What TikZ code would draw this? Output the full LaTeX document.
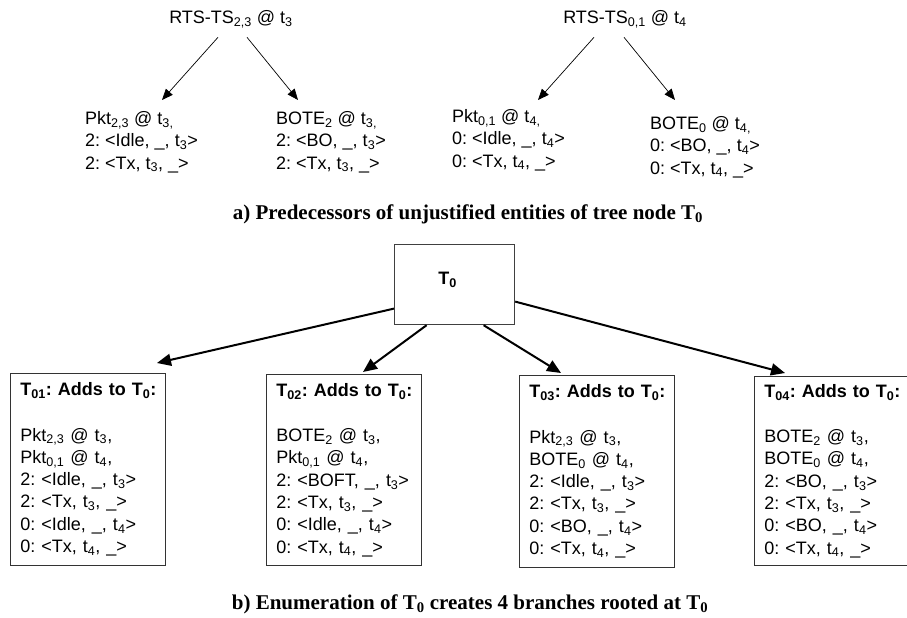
\documentclass[tikz,border=0pt]{standalone}
\usepackage{fontspec}
\setmainfont{Liberation Sans}
\newfontfamily\capfont{Liberation Serif}
\usetikzlibrary{arrows.meta}
\frenchspacing

\tikzset{
  txt/.style={font=\fontsize{18}{22.3}\selectfont, align=left, inner sep=0pt},
  capt/.style={font=\capfont\bfseries\fontsize{21}{25}\selectfont, inner sep=0pt, anchor=base},
  thinarrow/.style={-{Triangle[length=11pt,width=9pt]}, line width=0.7pt},
  thickarrow/.style={-{Triangle[length=14pt,width=12pt]}, line width=2pt},
  entbox/.style={draw=black!80, line width=0.9pt, txt, anchor=north west,
    text width=135pt, inner xsep=10pt},
}

\begin{document}
\begin{tikzpicture}[x=1pt,y=-1pt]
\useasboundingbox (0,0) rectangle (907,618);

% ---- a) predecessors ----
\node[txt, anchor=base] (r1) at (231,23.3) {RTS-TS\textsubscript{2,3} @ t\textsubscript{3}};
\node[txt, anchor=north west] (p1) at (85,111.2)
  {Pkt\textsubscript{2,3} @ t\textsubscript{3,}\\ 2: <Idle, \_, t\textsubscript{3}>\\ 2: <Tx, t\textsubscript{3}, \_>};
\node[txt, anchor=north west] (b1) at (276,111.2)
  {BOTE\textsubscript{2} @ t\textsubscript{3,}\\ 2: <BO, \_, t\textsubscript{3}>\\ 2: <Tx, t\textsubscript{3}, \_>};

\node[txt, anchor=base] (r2) at (625,23.3) {RTS-TS\textsubscript{0,1} @ t\textsubscript{4}};
\node[txt, anchor=north west] (p2) at (452,109.2)
  {Pkt\textsubscript{0,1} @ t\textsubscript{4,}\\ 0: <Idle, \_, t\textsubscript{4}>\\ 0: <Tx, t\textsubscript{4}, \_>};
\node[txt, anchor=north west] (b2) at (650,116.2)
  {BOTE\textsubscript{0} @ t\textsubscript{4,}\\ 0: <BO, \_, t\textsubscript{4}>\\ 0: <Tx, t\textsubscript{4}, \_>};

\draw[thinarrow] ([xshift=-13pt,yshift=-14pt]r1.base) -- ([xshift=77pt,yshift=11.2pt]p1.north west);
\draw[thinarrow] ([xshift=16pt,yshift=-14pt]r1.base) -- ([xshift=22pt,yshift=11.2pt]b1.north west);
\draw[thinarrow] ([xshift=-31pt,yshift=-14pt]r2.base) -- ([xshift=86pt,yshift=9.2pt]p2.north west);
\draw[thinarrow] ([xshift=-1pt,yshift=-14pt]r2.base) -- ([xshift=25pt,yshift=16.2pt]b2.north west);

\node[capt] (capa) at (468,219) {a) Predecessors of unjustified entities of tree node T\textsubscript{0}};

% ---- b) enumeration ----
\node[draw=black!75, line width=1.2pt, anchor=north west, minimum width=120pt,
      minimum height=80pt, inner sep=0pt] (T0) at (394,244) {};
\node[txt, font=\bfseries\fontsize{18}{22.3}\selectfont] (T0lab) at (447.5,279.5) {T\textsubscript{0}};

\node[entbox, minimum height=192pt] (T01) at (10,373)
  {\mbox{\textbf{T\textsubscript{01}: Adds to T\textsubscript{0}:}}\\[23pt]
   Pkt\textsubscript{2,3} @ t\textsubscript{3},\\
   Pkt\textsubscript{0,1} @ t\textsubscript{4},\\
   2: <Idle, \_, t\textsubscript{3}>\\
   2: <Tx, t\textsubscript{3}, \_>\\
   0: <Idle, \_, t\textsubscript{4}>\\
   0: <Tx, t\textsubscript{4}, \_>};
\node[entbox, minimum height=191pt] (T02) at (266,374)
  {\mbox{\textbf{T\textsubscript{02}: Adds to T\textsubscript{0}:}}\\[23pt]
   BOTE\textsubscript{2} @ t\textsubscript{3},\\
   Pkt\textsubscript{0,1} @ t\textsubscript{4},\\
   2: <BOFT, \_, t\textsubscript{3}>\\
   2: <Tx, t\textsubscript{3}, \_>\\
   0: <Idle, \_, t\textsubscript{4}>\\
   0: <Tx, t\textsubscript{4}, \_>};
\node[entbox, minimum height=192pt] (T03) at (519,375)
  {\mbox{\textbf{T\textsubscript{03}: Adds to T\textsubscript{0}:}}\\[23pt]
   Pkt\textsubscript{2,3} @ t\textsubscript{3},\\
   BOTE\textsubscript{0} @ t\textsubscript{4},\\
   2: <Idle, \_, t\textsubscript{3}>\\
   2: <Tx, t\textsubscript{3}, \_>\\
   0: <BO, \_, t\textsubscript{4}>\\
   0: <Tx, t\textsubscript{4}, \_>};
\node[entbox, minimum height=189pt, text width=140pt] (T04) at (754,376)
  {\mbox{\textbf{T\textsubscript{04}: Adds to T\textsubscript{0}:}}\\[23pt]
   BOTE\textsubscript{2} @ t\textsubscript{3},\\
   BOTE\textsubscript{0} @ t\textsubscript{4},\\
   2: <BO, \_, t\textsubscript{3}>\\
   2: <Tx, t\textsubscript{3}, \_>\\
   0: <BO, \_, t\textsubscript{4}>\\
   0: <Tx, t\textsubscript{4}, \_>};

\draw[thickarrow] ([yshift=-24pt]T0.west) -- ([xshift=147pt,yshift=10pt]T01.north west);
\draw[thickarrow] ([xshift=-28pt]T0.south) -- ([xshift=97pt,yshift=2pt]T02.north west);
\draw[thickarrow] ([xshift=29pt]T0.south) -- ([xshift=42pt,yshift=2pt]T03.north west);
\draw[thickarrow] ([yshift=-17pt]T0.east) -- ([xshift=31pt,yshift=3pt]T04.north west);

\node[capt] (capb) at (470,609) {b) Enumeration of T\textsubscript{0} creates 4 branches rooted at T\textsubscript{0}};
\end{tikzpicture}
\end{document}
